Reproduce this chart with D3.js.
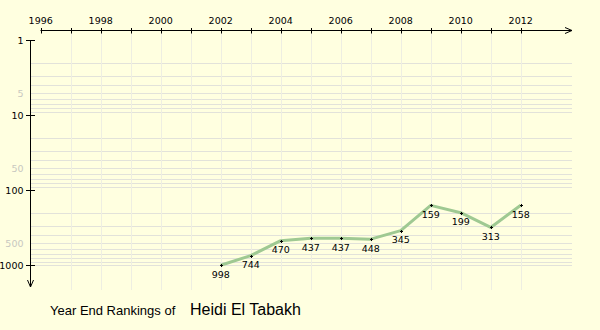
<!DOCTYPE html>
<html><head><meta charset="utf-8">
<script src="https://cdn.jsdelivr.net/npm/d3@7"></script>
<style>html,body{margin:0;padding:0;background:#ffffe0;}svg{display:block;}</style>
</head><body>
<svg id="c" width="600" height="330"></svg>
<script>
const years = [2002,2003,2004,2005,2006,2007,2008,2009,2010,2011,2012];
const ranks = [998,744,470,437,437,448,345,159,199,313,158];
const yearTicks = [1996,1998,2000,2002,2004,2006,2008,2010,2012];
const majorRanks = [1,10,100,1000];
const minorLabelRanks = [5,50,500];
const playerName = "Heidi El Tabakh";
const titlePrefix = "Year End Rankings of";

const svg = d3.select("#c");
svg.append("rect").attr("width",600).attr("height",330).attr("fill","#ffffe0");

const x = d3.scaleLinear().domain([1996,2012]).range([40.7,520.7]);
const y = d3.scaleLog().domain([1,1000]).range([40.3,265.3]);

const font = "DejaVu Sans, Verdana, sans-serif";
const fs = 9.5;

// grid lines
const gridVals = [];
for (const d of [1,10,100]) for (let k=2;k<=9;k++) gridVals.push(d*k);
gridVals.push(1000);
svg.append("g").selectAll("line").data(gridVals).join("line")
  .attr("x1",31).attr("x2",572).attr("y1",d=>Math.round(y(d))+0.5).attr("y2",d=>Math.round(y(d))+0.5)
  .attr("stroke","#e2e2da").attr("stroke-width",1);

const allYears = d3.range(1997,2013);
svg.append("g").selectAll("line").data(allYears).join("line")
  .attr("x1",d=>Math.round(x(d))+0.5).attr("x2",d=>Math.round(x(d))+0.5)
  .attr("y1",31).attr("y2",290)
  .attr("stroke","#eeeee2").attr("stroke-width",1);

// top axis
const ax = svg.append("g");
ax.append("line").attr("x1",40.5).attr("x2",572).attr("y1",30.5).attr("y2",30.5).attr("stroke","#000");
ax.append("path").attr("d","M565,27.5 L572,30.5 L565,33.5").attr("fill","none").attr("stroke","#000");
ax.selectAll(".tk").data(d3.range(1996,2013)).join("line")
  .attr("x1",d=>Math.round(x(d))+0.5).attr("x2",d=>Math.round(x(d))+0.5)
  .attr("y1",28).attr("y2",33.5).attr("stroke","#000");
ax.selectAll("text").data(yearTicks).join("text")
  .attr("x",d=>x(d)).attr("y",24).attr("text-anchor","middle")
  .attr("font-family",font).attr("font-size",fs).attr("fill","#000").text(d=>d);

// left axis
const ay = svg.append("g");
ay.append("line").attr("x1",30.5).attr("x2",30.5).attr("y1",40).attr("y2",287).attr("stroke","#000");
ay.append("path").attr("d","M27.5,280 L30.5,287 L33.5,280").attr("fill","none").attr("stroke","#000");
ay.selectAll(".tk").data(majorRanks).join("line")
  .attr("x1",26).attr("x2",35).attr("y1",d=>Math.round(y(d))+0.5).attr("y2",d=>Math.round(y(d))+0.5).attr("stroke","#000");
ay.selectAll(".lb").data(majorRanks).join("text")
  .attr("x",23.5).attr("y",d=>y(d)+4).attr("text-anchor","end")
  .attr("font-family",font).attr("font-size",fs).attr("fill","#000").text(d=>d);
ay.selectAll(".ml").data(minorLabelRanks).join("text")
  .attr("x",23.5).attr("y",d=>y(d)+4).attr("text-anchor","end")
  .attr("font-family",font).attr("font-size",fs).attr("fill","#c8c8c0").text(d=>d);

// line
const pts = years.map((yr,i)=>[yr,ranks[i]]);
svg.append("path").datum(pts)
  .attr("d",d3.line().x(d=>x(d[0])).y(d=>y(d[1])))
  .attr("fill","none").attr("stroke","#9fc992").attr("stroke-width",3).attr("stroke-linejoin","round");

svg.append("g").selectAll("path").data(pts).join("path")
  .attr("d",d=>{const cx=Math.round(x(d[0]))+0.5, cy=Math.round(y(d[1]))+0.5; return `M${cx-1.5},${cy}H${cx+1.5}M${cx},${cy-1.5}V${cy+1.5}`;})
  .attr("stroke","#000").attr("stroke-width",1);

svg.append("g").selectAll("text").data(pts).join("text")
  .attr("x",d=>x(d[0])).attr("y",d=>y(d[1])+12.5).attr("text-anchor","middle")
  .attr("font-family",font).attr("font-size",fs).attr("fill","#000").text(d=>d[1]);

// title
svg.append("text").attr("x",50).attr("y",315).attr("font-family","Liberation Sans, Arial, sans-serif")
  .attr("font-size",13).attr("fill","#000").text(titlePrefix);
svg.append("text").attr("x",190).attr("y",315).attr("font-family","Liberation Sans, Arial, sans-serif")
  .attr("font-size",16).attr("fill","#000").text(playerName);
</script>
</body></html>
